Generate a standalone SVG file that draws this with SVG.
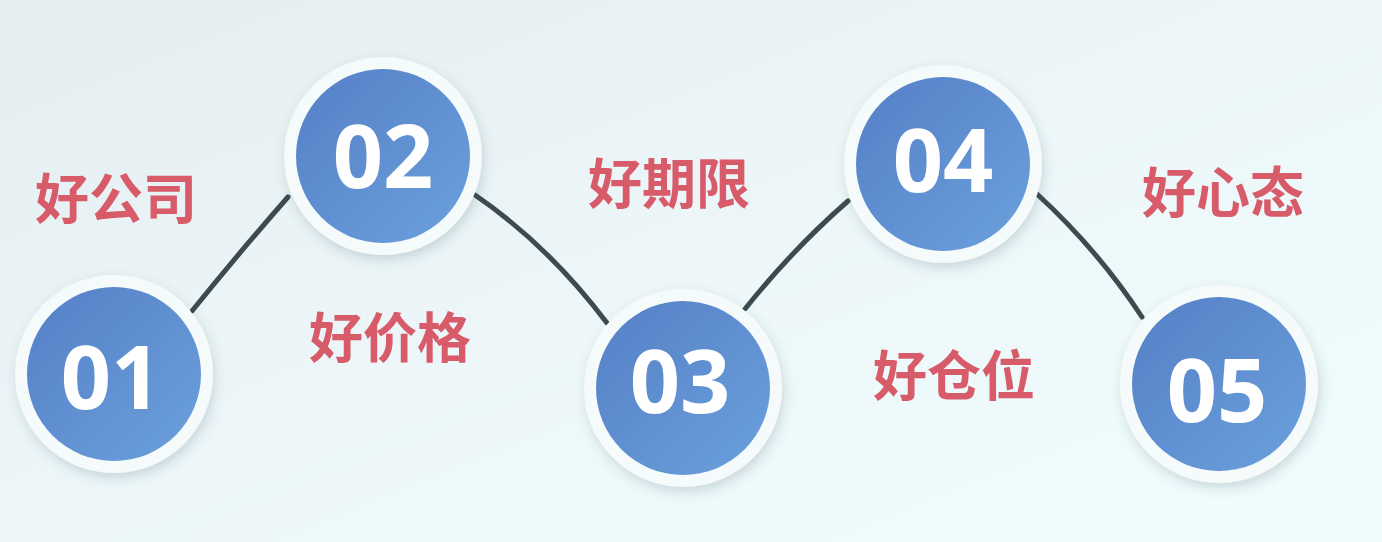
<svg xmlns="http://www.w3.org/2000/svg" width="1382" height="542" viewBox="0 0 1382 542">
  <defs>
    <linearGradient id="bg" x1="0" y1="0" x2="1" y2="1">
      <stop offset="0" stop-color="#e4eef0"/>
      <stop offset="0.5" stop-color="#edf7f9"/>
      <stop offset="1" stop-color="#f0fcfd"/>
    </linearGradient>
    <linearGradient id="blue" x1="0" y1="0" x2="1" y2="1">
      <stop offset="0" stop-color="#5580c6"/>
      <stop offset="1" stop-color="#6ba0dc"/>
    </linearGradient>
    <filter id="sh" x="-30%" y="-30%" width="160%" height="160%">
      <feDropShadow dx="2" dy="5" stdDeviation="6" flood-color="#3a5060" flood-opacity="0.2"/>
    </filter>
  </defs>
  <style>
    .ring { fill: #f5fafb; filter: url(#sh); }
    .disc { fill: url(#blue); }
    .num { font-family: "Open Sans", "Noto Sans", sans-serif; font-weight: 700; font-size: 88px; fill: #ffffff; text-anchor: middle; }
    .lbl { font-family: "Noto Sans CJK SC", "Noto Sans", sans-serif; font-weight: 700; font-size: 54px; fill: #d85b6a; text-anchor: middle; }
    .conn { fill: none; stroke: #3d4b50; stroke-width: 5; stroke-linecap: round; }
  </style>
  <rect width="1382" height="542" fill="url(#bg)"/>

  <g id="connectors">
    <path class="conn" d="M192 311 Q238 254 288 197"/>
    <path class="conn" d="M475 195 Q548 245 607 323"/>
    <path class="conn" d="M745 309 Q792 250 848 201"/>
    <path class="conn" d="M1037 194 Q1098 250 1142 317"/>
  </g>

  <g id="node-01">
    <circle class="ring" cx="114" cy="374" r="99"/>
    <circle class="disc" cx="114" cy="374" r="87"/>
    <text class="num" x="111" y="409">01</text>
  </g>
  <g id="node-02">
    <circle class="ring" cx="383" cy="156" r="99"/>
    <circle class="disc" cx="383" cy="156" r="87"/>
    <text class="num" x="383" y="188">02</text>
  </g>
  <g id="node-03">
    <circle class="ring" cx="683" cy="388" r="99"/>
    <circle class="disc" cx="683" cy="388" r="87"/>
    <text class="num" x="680" y="413">03</text>
  </g>
  <g id="node-04">
    <circle class="ring" cx="943" cy="164" r="99"/>
    <circle class="disc" cx="943" cy="164" r="87"/>
    <text class="num" x="943" y="192">04</text>
  </g>
  <g id="node-05">
    <circle class="ring" cx="1219" cy="384" r="99"/>
    <circle class="disc" cx="1219" cy="384" r="87"/>
    <text class="num" x="1217" y="422">05</text>
  </g>

  <g id="labels">
    <text class="lbl" x="116" y="219">好公司</text>
    <text class="lbl" x="390" y="358">好价格</text>
    <text class="lbl" x="669" y="204">好期限</text>
    <text class="lbl" x="954" y="396">好仓位</text>
    <text class="lbl" x="1223" y="213">好心态</text>
  </g>
</svg>
